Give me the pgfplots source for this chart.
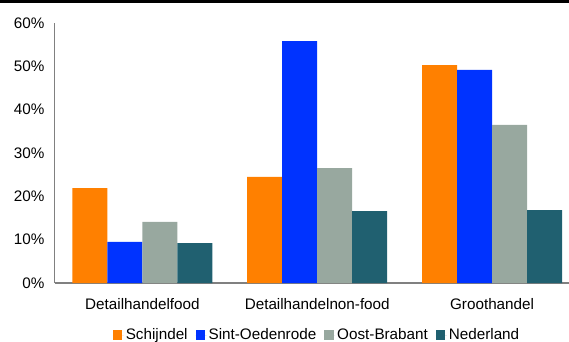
\documentclass[border=0pt]{standalone}
\usepackage{fontspec}
\setmainfont{Liberation Sans}
\usepackage{pgfplots}
\pgfplotsset{compat=1.18}

\definecolor{cOrange}{HTML}{FF8000}
\definecolor{cBlue}{HTML}{0033FF}
\definecolor{cGray}{HTML}{98A89F}
\definecolor{cTeal}{HTML}{206070}
\definecolor{cAxis}{HTML}{808080}

\begin{document}
\begin{tikzpicture}
\begin{axis}[
    name=ax,
    at={(0,0)}, anchor=south west,
    scale only axis,
    width=514bp, height=260bp,
    xmin=-0.5, xmax=2.44,
    ymin=0, ymax=60,
    ybar=0pt, bar width=35bp,
    xtick={0,1,2},
    xticklabels={Detailhandelfood, Detailhandelnon-food, Groothandel},
    ytick={0,10,...,60},
    /pgf/number format/assume math mode=true,
    yticklabel={\pgfmathprintnumber{\tick}\%},
    major tick length=0pt,
    axis x line*=bottom, axis y line*=left,
    x axis line style={-, draw=cAxis, line width=2bp},
    y axis line style={-, draw=cAxis, line width=1bp},
    tick label style={font=\fontsize{15.3}{17}\selectfont, text=black},
    yticklabel style={xshift=-7bp},
    xticklabel style={yshift=-12bp},
    legend style={at={(0.5,0)}, anchor=center, yshift=-52bp, xshift=5bp,
        draw=none, fill=none, font=\fontsize{15.3}{17}\selectfont,
        legend columns=-1,
        /tikz/every even column/.append style={column sep=6bp}},
    legend image code/.code={%
        \fill[#1] (0bp,-4.7bp) rectangle (9.4bp,4.7bp);
        \path (0bp,0bp) -- (11bp,0bp);},
    every axis plot/.append style={draw=none},
]
\addplot[fill=cOrange] coordinates {(0,21.9) (1,24.5) (2,50.3)};
\addplot[fill=cBlue]   coordinates {(0,9.5) (1,55.8) (2,49.2)};
\addplot[fill=cGray]   coordinates {(0,14.1) (1,26.5) (2,36.5)};
\addplot[fill=cTeal]   coordinates {(0,9.2) (1,16.6) (2,16.8)};
\legend{Schijndel, Sint-Oedenrode, Oost-Brabant, Nederland}
\end{axis}
\draw[line width=3bp, black] (-55bp,281.5bp) -- (514bp,281.5bp);
\pgfresetboundingbox
\path[use as bounding box] (-55bp,-59bp) rectangle (514bp,283bp);
\end{tikzpicture}
\end{document}
